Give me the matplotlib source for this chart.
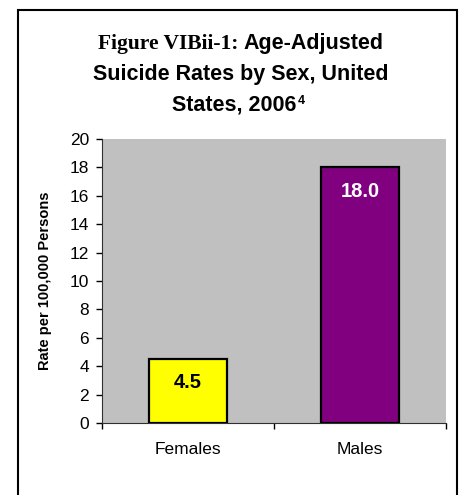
import matplotlib
matplotlib.use("Agg")
import matplotlib.pyplot as plt
from matplotlib.patches import Rectangle

# suicide rates per 100,000, age-adjusted, 2006
categories = ["Females", "Males"]
rates = [4.5, 18.0]
bar_colors = ["#FFFF00", "#800080"]
label_colors = ["black", "white"]
yticks = list(range(0, 21, 2))

W, H = 463, 495
SANS = "Liberation Sans"
fig = plt.figure(figsize=(W / 100, H / 100), dpi=100)

# plot area in pixels: left 102, right 446, top 139, bottom 423
ax = fig.add_axes([102 / W, 1 - 423 / H, (446 - 102) / W, (423 - 139) / H])
ax.set_facecolor("#C0C0C0")

x = range(len(categories))
ax.bar(x, rates, width=0.45, color=bar_colors, edgecolor="black", linewidth=1.6, zorder=3)
for i, v in enumerate(rates):
    ax.annotate(f"{v:.1f}", (i, v), xytext=(0, -17), textcoords="offset points",
                ha="center", va="center", fontsize=14.5, fontweight="bold",
                color=label_colors[i], family=SANS, zorder=4)

ax.set_xlim(-0.5, 1.5)
ax.set_ylim(0, 20)
ax.set_yticks(yticks)
ax.set_yticklabels([str(t) for t in yticks], fontsize=12.5, family=SANS)
ax.set_xticks([-0.5, 0.5, 1.5], minor=False)
ax.set_xticklabels([])
ax.set_xticks([0, 1], minor=True)
ax.set_xticklabels(categories, minor=True, fontsize=12.5, family=SANS)
ax.tick_params(axis="x", which="minor", length=0, pad=14)
ax.tick_params(axis="x", which="major", length=4.3, width=1, direction="out")
ax.tick_params(axis="y", length=4.3, width=1, direction="out", pad=5)
for s in ["top", "right"]:
    ax.spines[s].set_visible(False)
ax.spines["left"].set_color("#303030")
ax.spines["bottom"].set_color("#303030")
ax.set_ylabel("Rate per 100,000 Persons", fontsize=10.5, fontweight="bold", family=SANS)
ax.yaxis.set_label_coords(-0.145, 0.5)

# outer frame
fig.patches.append(Rectangle((18 / W, -0.02), (457 - 18) / W, 1.02 - 10 / H,
                             transform=fig.transFigure, fill=False,
                             edgecolor="black", linewidth=1.5))

# title: serif figure number followed by sans text
fig.canvas.draw()
r = fig.canvas.get_renderer()
TS = 15.5
t1 = fig.text(0, 1 - 49 / H, "Figure VIBii-1:", family="Liberation Serif",
              fontweight="bold", fontsize=TS, va="baseline", ha="left")
t2 = fig.text(0, 1 - 49 / H, "Age-Adjusted", family=SANS,
              fontweight="bold", fontsize=TS, va="baseline", ha="left")
w1 = t1.get_window_extent(renderer=r).width
w2 = t2.get_window_extent(renderer=r).width
gap = 5
x0 = 241 - (w1 + gap + w2) / 2
t1.set_x(x0 / W)
t2.set_x((x0 + w1 + gap) / W)
fig.text(241 / W, 1 - 80 / H, "Suicide Rates by Sex, United", family=SANS,
         fontweight="bold", fontsize=TS, va="baseline", ha="center")
t3 = fig.text(172 / W, 1 - 111 / H, "States, 2006", family=SANS,
              fontweight="bold", fontsize=TS, va="baseline", ha="left")
bb3 = t3.get_window_extent(renderer=r)
fig.text((bb3.x1 + 1) / W, 1 - 104 / H, "4", family=SANS,
         fontweight="bold", fontsize=9, va="baseline", ha="left")

fig.savefig("out.png", dpi=100)
